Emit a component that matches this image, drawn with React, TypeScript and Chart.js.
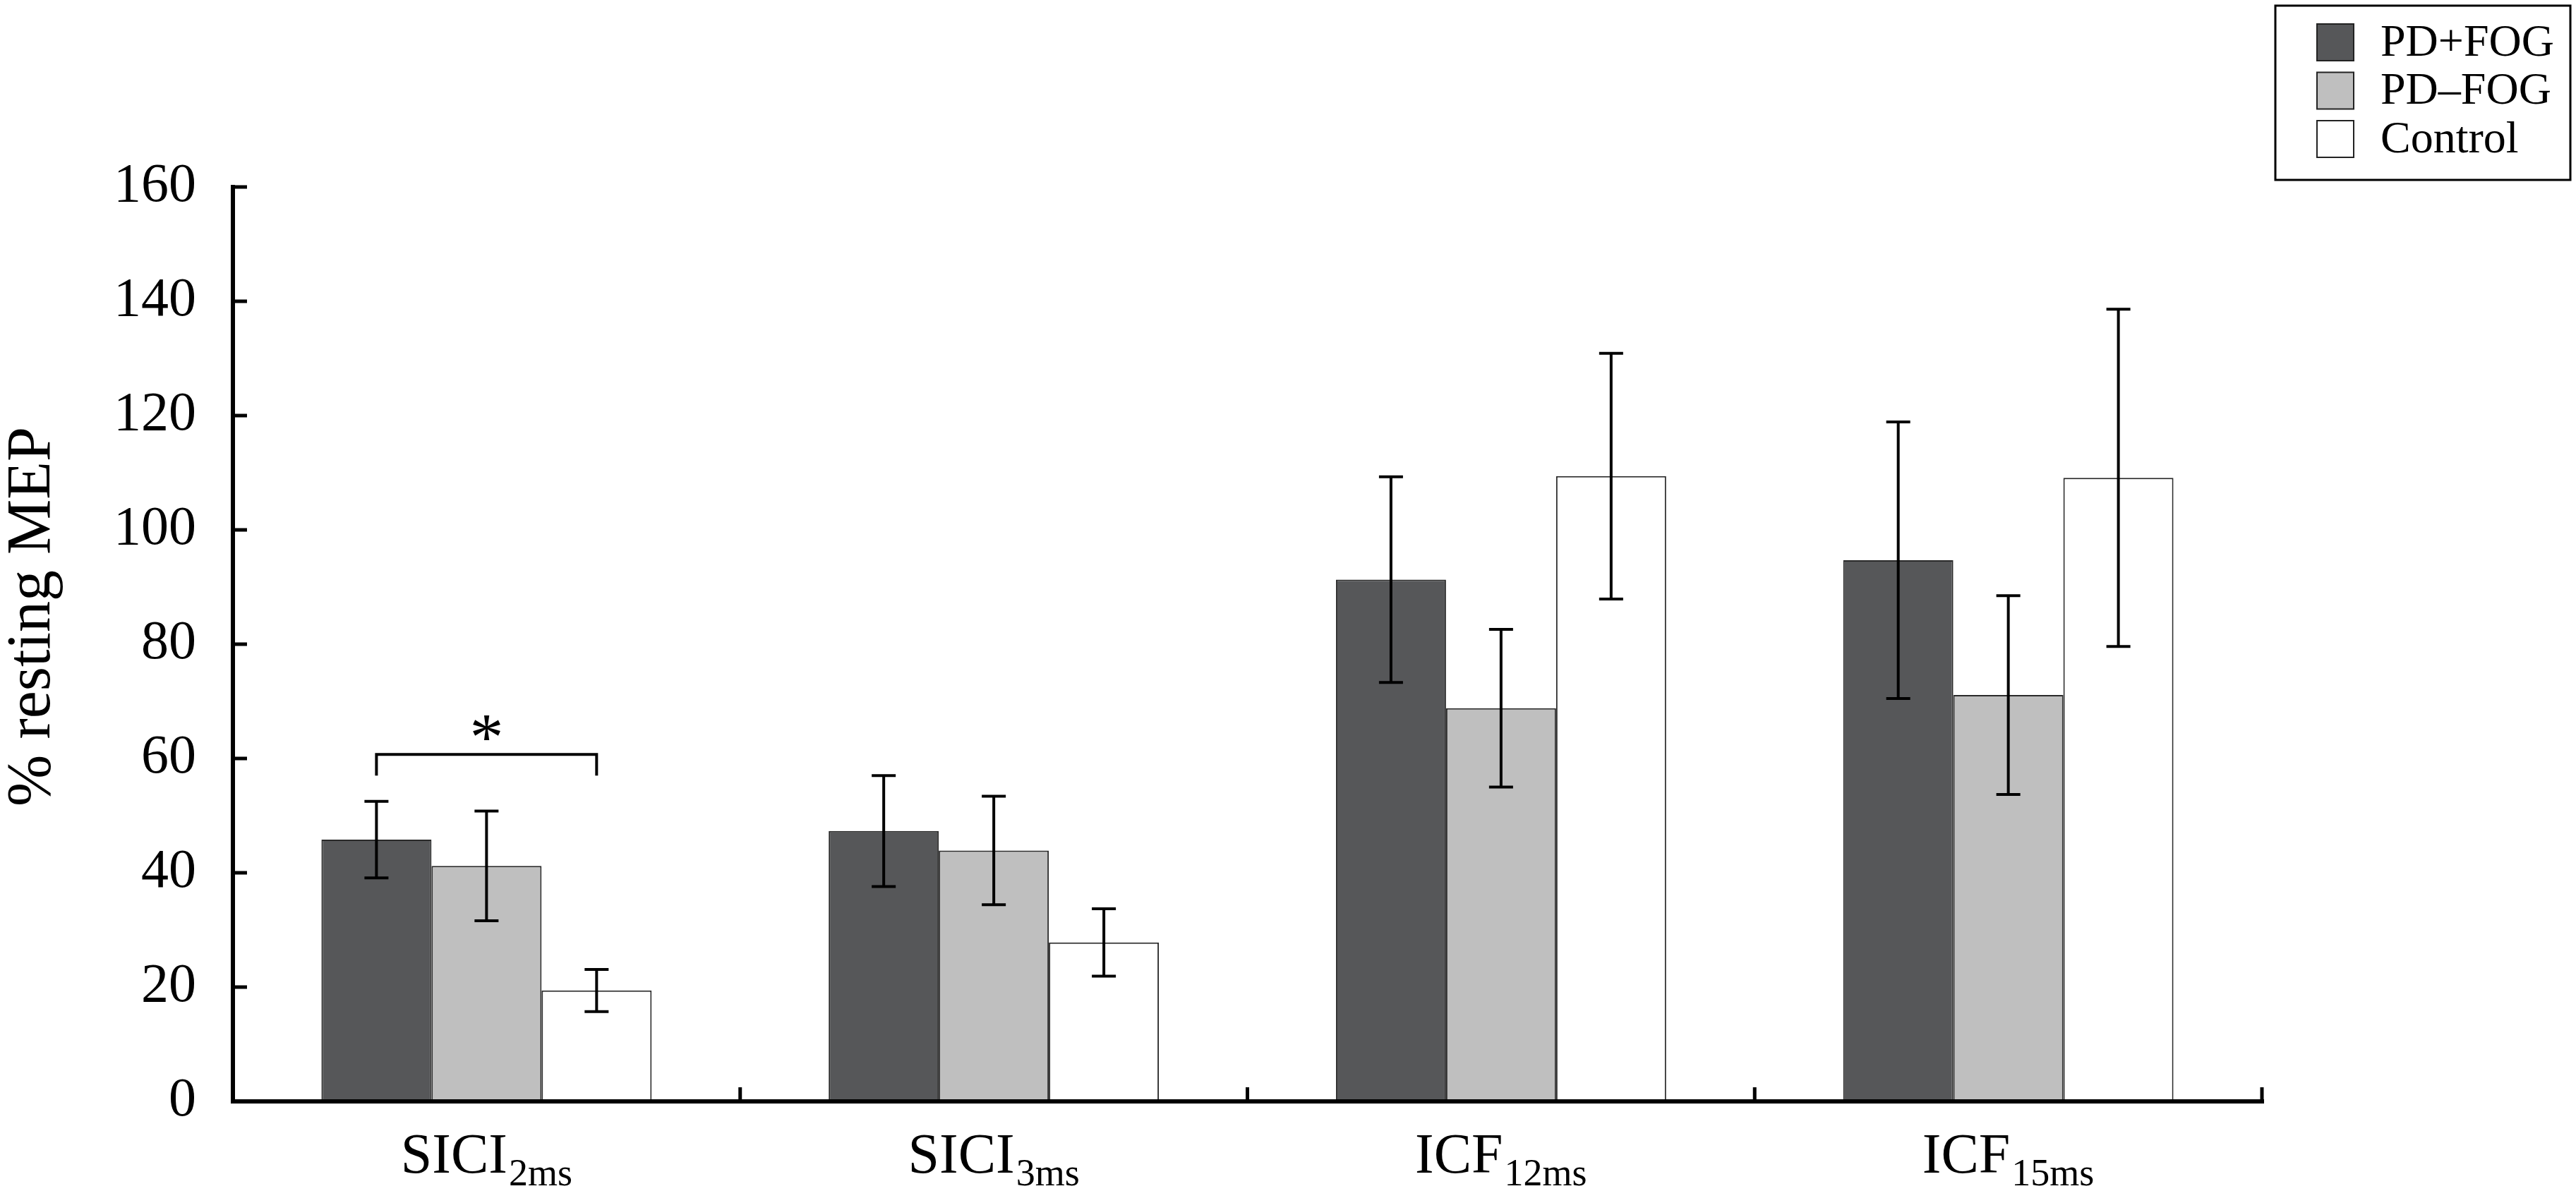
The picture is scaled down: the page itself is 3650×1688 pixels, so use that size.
import { useEffect, useRef } from "react"
import { Chart, registerables } from "chart.js"

Chart.register(...registerables)

// category labels: main text + subscript
const categoryMain = ["SICI", "SICI", "ICF", "ICF"]
const categorySub = ["2ms", "3ms", "12ms", "15ms"]

// group means and error (± SE)
const pdFogMean = [45.8, 47.3, 91.3, 94.7]
const pdFogErr = [6.7, 9.7, 18.0, 24.2]
const pdNoFogMean = [41.2, 43.9, 68.8, 71.1]
const pdNoFogErr = [9.6, 9.5, 13.8, 17.4]
const controlMean = [19.4, 27.8, 109.4, 109.1]
const controlErr = [3.7, 5.9, 21.5, 29.5]

const yTickValues = [0, 20, 40, 60, 80, 100, 120, 140, 160]

// significance bracket (SICI 2ms: PD+FOG vs Control)
const sigCategory = 0
const sigFrom = 0
const sigTo = 2
const sigLevel = 60.7
const sigLegLevel = 57.0
const sigMarkLevel = 65.3

const FONT = "'Liberation Serif', 'Times New Roman', serif"

const errorBarsPlugin = {
  id: "errorBars",
  afterDatasetsDraw(chart: any) {
    const ctx = chart.ctx
    const y = chart.scales.y
    ctx.save()
    ctx.strokeStyle = "#000"
    ctx.lineWidth = 4
    chart.data.datasets.forEach((ds: any, di: number) => {
      const meta = chart.getDatasetMeta(di)
      meta.data.forEach((bar: any, i: number) => {
        const hi = y.getPixelForValue(ds.data[i] + ds.errors[i])
        const lo = y.getPixelForValue(ds.data[i] - ds.errors[i])
        const x = bar.x
        ctx.beginPath()
        ctx.moveTo(x, hi)
        ctx.lineTo(x, lo)
        ctx.moveTo(x - 17, hi)
        ctx.lineTo(x + 17, hi)
        ctx.moveTo(x - 17, lo)
        ctx.lineTo(x + 17, lo)
        ctx.stroke()
      })
    })
    ctx.restore()
  },
}

const axesPlugin = {
  id: "axesDecor",
  afterDraw(chart: any) {
    const ctx = chart.ctx
    const { left, right, top, bottom } = chart.chartArea
    const x = chart.scales.x
    const y = chart.scales.y
    ctx.save()
    ctx.strokeStyle = "#000"
    ctx.lineCap = "butt"

    // axis lines
    ctx.lineWidth = 6
    ctx.beginPath()
    ctx.moveTo(left, top - 3)
    ctx.lineTo(left, bottom + 3)
    ctx.moveTo(left - 3, bottom)
    ctx.lineTo(right + 3, bottom)
    ctx.stroke()

    // inward ticks on y
    ctx.lineWidth = 5
    ctx.beginPath()
    yTickValues.forEach((v) => {
      const py = y.getPixelForValue(v)
      ctx.moveTo(left, py)
      ctx.lineTo(left + 20, py)
    })
    // inward ticks on x at category boundaries
    const n = chart.data.labels.length
    const half = (x.getPixelForValue(1) - x.getPixelForValue(0)) / 2
    for (let i = 0; i < n; i++) {
      const bx = x.getPixelForValue(i) + half
      ctx.moveTo(bx, bottom)
      ctx.lineTo(bx, bottom - 20)
    }
    ctx.stroke()

    // category labels with subscripts
    ctx.fillStyle = "#000"
    ctx.textBaseline = "alphabetic"
    ctx.textAlign = "left"
    for (let i = 0; i < n; i++) {
      ctx.font = `80px ${FONT}`
      const wMain = ctx.measureText(categoryMain[i]).width
      ctx.font = `54px ${FONT}`
      const wSub = ctx.measureText(categorySub[i]).width
      const cx = x.getPixelForValue(i)
      const sx = cx - (wMain + 2 + wSub) / 2
      ctx.font = `80px ${FONT}`
      ctx.fillText(categoryMain[i], sx, bottom + 101)
      ctx.font = `54px ${FONT}`
      ctx.fillText(categorySub[i], sx + wMain + 2, bottom + 119)
    }

    // y axis title
    ctx.save()
    ctx.font = `88px ${FONT}`
    ctx.textAlign = "center"
    ctx.translate(70, 874)
    ctx.rotate(-Math.PI / 2)
    ctx.fillText("% resting MEP", 0, 0)
    ctx.restore()

    // significance bracket
    const barA = chart.getDatasetMeta(sigFrom).data[sigCategory]
    const barB = chart.getDatasetMeta(sigTo).data[sigCategory]
    const yl = y.getPixelForValue(sigLevel)
    const yleg = y.getPixelForValue(sigLegLevel)
    ctx.lineWidth = 4
    ctx.beginPath()
    ctx.moveTo(barA.x, yleg)
    ctx.lineTo(barA.x, yl)
    ctx.lineTo(barB.x, yl)
    ctx.lineTo(barB.x, yleg)
    ctx.stroke()
    ctx.font = `96px ${FONT}`
    ctx.textAlign = "center"
    const m = ctx.measureText("*")
    const ym = y.getPixelForValue(sigMarkLevel)
    const off = (m.actualBoundingBoxAscent - m.actualBoundingBoxDescent) / 2
    ctx.fillText("*", (barA.x + barB.x) / 2, ym + off)

    // legend box
    ctx.lineWidth = 3
    ctx.strokeRect(3224, 8, 418, 247)
    ctx.font = `64px ${FONT}`
    ctx.textBaseline = "middle"
    ctx.textAlign = "left"
    chart.data.datasets.forEach((ds: any, di: number) => {
      const top0 = 34 + di * 68.5
      ctx.fillStyle = ds.backgroundColor
      ctx.fillRect(3283, top0, 52, 52)
      ctx.lineWidth = 2
      ctx.strokeStyle = "#222"
      ctx.strokeRect(3283, top0, 52, 52)
      ctx.fillStyle = "#000"
      ctx.fillText(ds.label, 3373, top0 + 28)
    })
    ctx.restore()
  },
}

export default function App() {
  const canvasRef = useRef<HTMLCanvasElement>(null)
  const chartRef = useRef<Chart | null>(null)

  useEffect(() => {
    document.body.style.margin = "0"
    if (!canvasRef.current) return
    if (chartRef.current) chartRef.current.destroy()

    const labels = categoryMain.map((m, i) => m + categorySub[i])

    chartRef.current = new Chart(canvasRef.current, {
      type: "bar",
      data: {
        labels,
        datasets: [
          {
            label: "PD+FOG",
            data: pdFogMean,
            errors: pdFogErr,
            backgroundColor: "#565759",
            borderColor: "#2a2a2a",
            borderWidth: 2,
          },
          {
            label: "PD\u2013FOG",
            data: pdNoFogMean,
            errors: pdNoFogErr,
            backgroundColor: "#bfbfbf",
            borderColor: "#2a2a2a",
            borderWidth: 2,
          },
          {
            label: "Control",
            data: controlMean,
            errors: controlErr,
            backgroundColor: "#ffffff",
            borderColor: "#2a2a2a",
            borderWidth: 2,
          },
        ] as any,
      },
      options: {
        animation: false,
        responsive: true,
        maintainAspectRatio: false,
        layout: { padding: { top: 265, right: 445, left: 0, bottom: 0 } },
        datasets: {
          bar: { categoryPercentage: 0.651, barPercentage: 1.0 },
        },
        plugins: {
          legend: { display: false },
          tooltip: { enabled: false },
        },
        scales: {
          x: {
            offset: true,
            grid: { display: false },
            border: { display: false },
            ticks: { display: false },
            afterFit: (s: any) => {
              s.height = 127
            },
          },
          y: {
            min: 0,
            max: 160,
            grid: { display: false, drawTicks: false },
            border: { display: false },
            ticks: {
              stepSize: 20,
              padding: 52,
              color: "#000",
              font: { family: FONT, size: 78 },
            },
            afterFit: (s: any) => {
              s.width = 330
            },
          },
        },
      },
      plugins: [errorBarsPlugin, axesPlugin],
    })

    return () => {
      if (chartRef.current) {
        chartRef.current.destroy()
        chartRef.current = null
      }
    }
  }, [])

  return (
    <div style={{ position: "relative", width: "3650px", height: "1688px", background: "#fff" }}>
      <canvas ref={canvasRef} />
    </div>
  )
}
